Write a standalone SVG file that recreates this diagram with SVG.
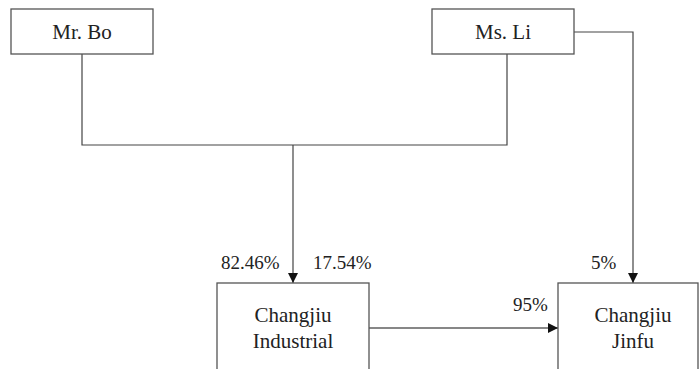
<svg xmlns="http://www.w3.org/2000/svg" width="699" height="369" viewBox="0 0 699 369">
<style>
.box{fill:#fff;stroke:#555;stroke-width:1.3}
.c{fill:none;stroke:#444;stroke-width:1.2}
.t{font-family:"Liberation Serif","DejaVu Serif",serif;font-size:21px;fill:#222;text-anchor:middle}
.l{font-family:"Liberation Serif","DejaVu Serif",serif;font-size:19px;fill:#222}
</style>
<defs>
<marker id="a" viewBox="0 0 10 10" refX="10" refY="5" markerWidth="10" markerHeight="10" markerUnits="userSpaceOnUse" orient="auto">
<path d="M0,0 L10,5 L0,10 z" fill="#111"/>
</marker>
</defs>
<rect width="699" height="369" fill="#fff"/>
<g id="connectors">
<polyline class="c" points="82,54 82,145 507,145 507,54"/>
<line class="c" x1="293" y1="145" x2="293" y2="283" marker-end="url(#a)"/>
<polyline class="c" points="574,32 633,32 633,283" marker-end="url(#a)"/>
<line class="c" x1="369" y1="328" x2="558" y2="328" marker-end="url(#a)" style="stroke:#111"/>
<text class="l" x="221" y="269">82.46%</text>
<text class="l" x="313" y="269">17.54%</text>
<text class="l" x="591" y="269">5%</text>
<text class="l" x="513" y="311">95%</text>
</g>
<g id="mrbo">
<rect class="box" x="11" y="9" width="142" height="45"/>
<text class="t" x="82" y="39">Mr. Bo</text>
</g>
<g id="msli">
<rect class="box" x="432" y="9" width="142" height="45"/>
<text class="t" x="503" y="39">Ms. Li</text>
</g>
<g id="industrial">
<rect class="box" x="217" y="283" width="152" height="100"/>
<text class="t" x="293" y="322">Changjiu</text>
<text class="t" x="293" y="348">Industrial</text>
</g>
<g id="jinfu">
<rect class="box" x="558" y="283" width="140" height="100"/>
<text class="t" x="633" y="322">Changjiu</text>
<text class="t" x="633" y="348">Jinfu</text>
</g>
</svg>
